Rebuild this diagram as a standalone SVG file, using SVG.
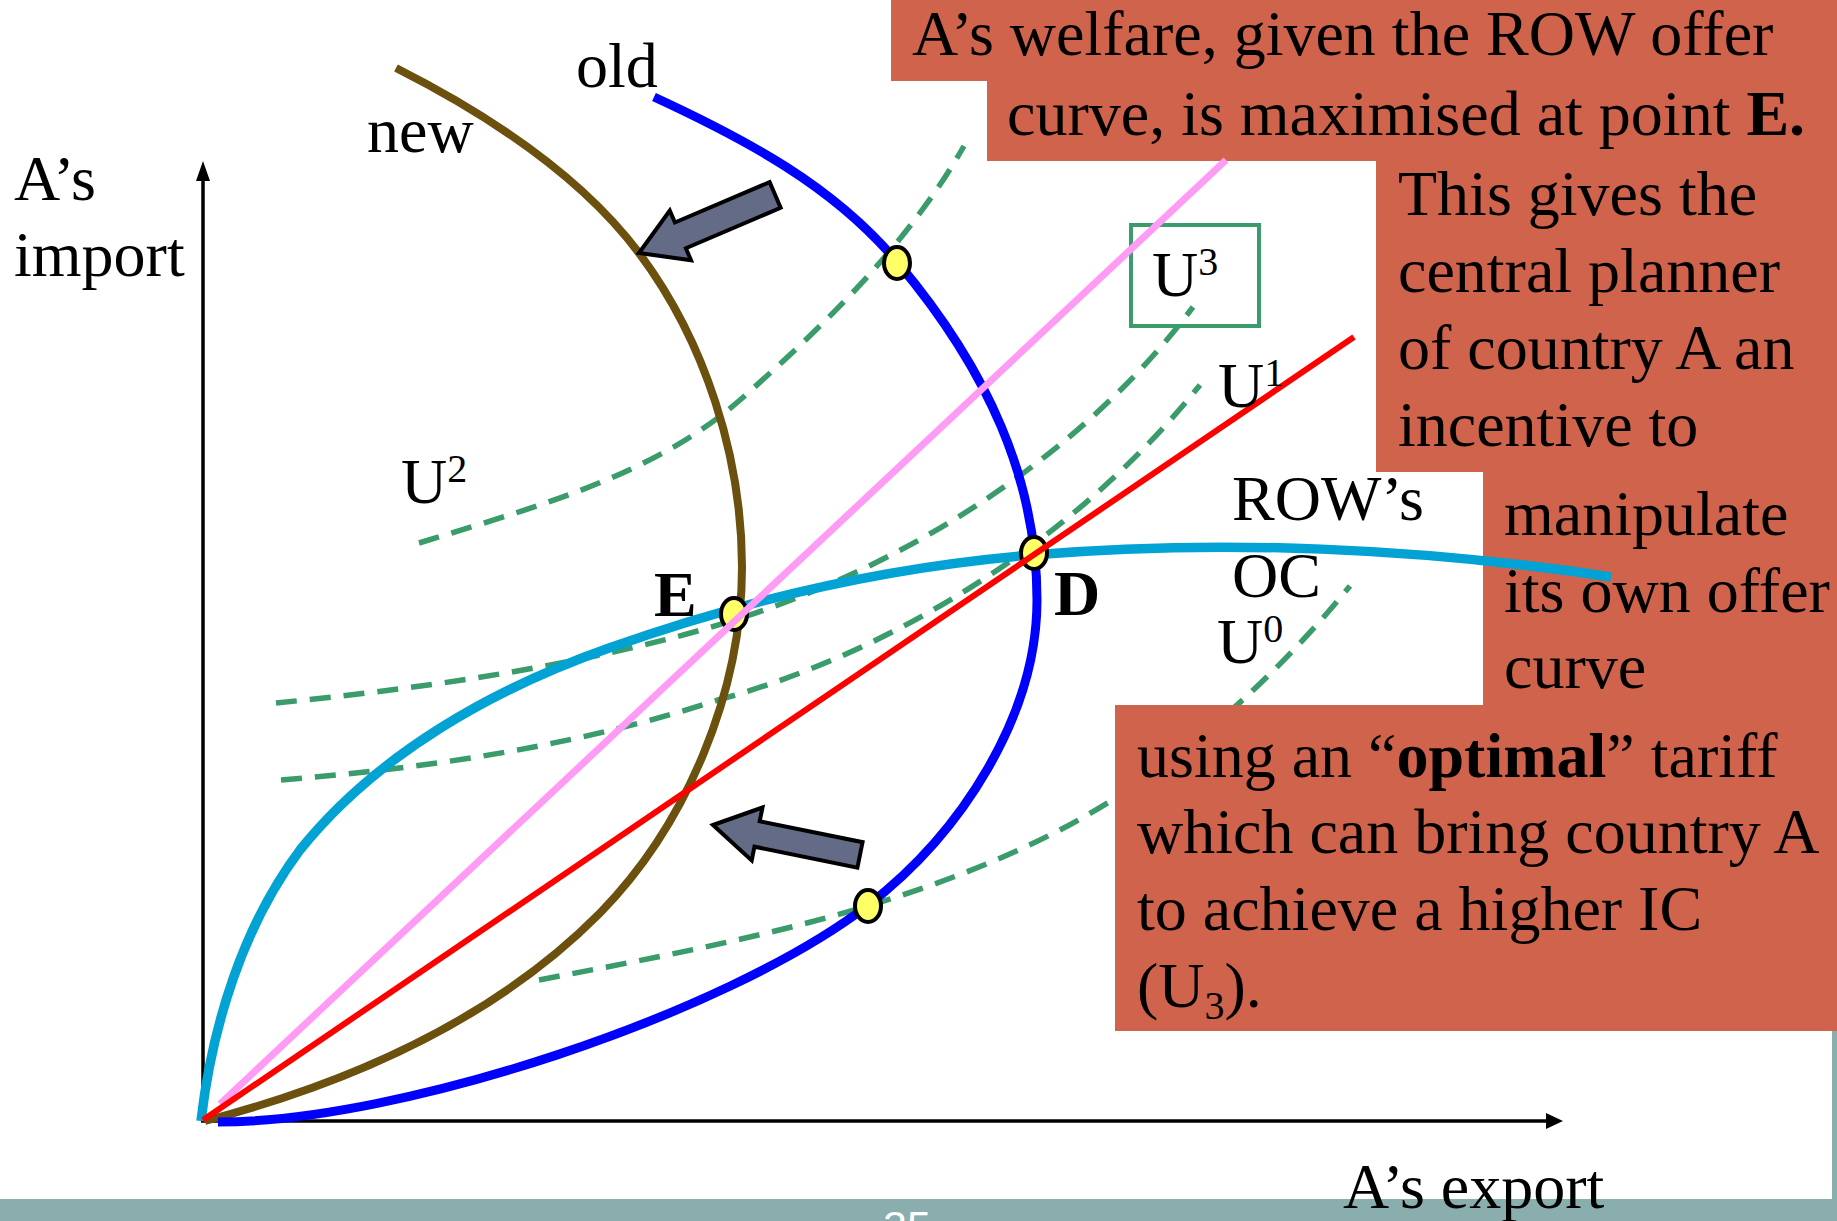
<svg xmlns="http://www.w3.org/2000/svg" width="1837" height="1221" viewBox="0 0 1837 1221">
<defs>
<style>
.t{font-family:"Liberation Serif","Times New Roman",serif;font-size:64px;fill:#000}
.b{font-weight:bold}
.sup{font-size:40px}
.ic{fill:none;stroke:#3A9B6B;stroke-width:5.5;stroke-dasharray:21 13}
.box{fill:#D0634B}
.pt{fill:#FFFF66;stroke:#000;stroke-width:4}
.arr{fill:#646B87;stroke:#000;stroke-width:4;stroke-linejoin:miter}
.ax{stroke:#000;stroke-width:3.5;fill:none}
</style>
</defs>
<rect x="0" y="0" width="1837" height="1221" fill="#fff"/>
<g id="frame">
<rect x="1832" y="0" width="5" height="1221" fill="#8AADAD"/>
<rect x="0" y="1199" width="1837" height="22" fill="#8AADAD"/>
</g>
<g id="connectors">
<path id="U0" class="ic" d="M539,980 C717,946 896,913 1054,833 C1168,775 1269,685 1350,586"/>
<path id="U1" class="ic" d="M281,780 C429,768 577,746 718,700 C900,650 1080,535 1200,385"/>
<path id="U2" class="ic" d="M419,543 C531,508 652,477 740,400 C825,325 908,244 964,146"/>
<path id="U3" class="ic" d="M276,703 C426,688 590,665 735,620 C911,563 1082,455 1193,307"/>
</g>
<g id="boxes">
<rect class="box" x="891" y="0" width="946" height="81"/>
<rect class="box" x="987" y="80" width="850" height="81"/>
<rect class="box" x="1376" y="160" width="461" height="312"/>
<rect class="box" x="1483" y="471" width="354" height="235"/>
<rect class="box" x="1115" y="705" width="722" height="326"/>
</g>
<g id="u3box">
<rect x="1131" y="225" width="128" height="101" fill="none" stroke="#3A9B6B" stroke-width="4"/>
</g>
<g id="axes">
<line class="ax" x1="203" y1="1121" x2="203" y2="176"/>
<polygon points="203,161 196,181 210,181" fill="#000"/>
<line class="ax" x1="201" y1="1121" x2="1548" y2="1121"/>
<polygon points="1563,1121 1546,1113 1546,1129" fill="#000"/>
</g>
<g id="curves">
<path id="new" d="M396,68 C485,113 579,173 639,253 C705,341 742,457 742,567 C742,692 687,824 600,913 C495,1019 350,1083 205,1121" fill="none" stroke="#6B500E" stroke-width="8"/>
<path id="old" d="M654,97 C745,139 834,186 898,263 C988,370 1037,480 1037,600 C1037,715 962,833 867,906 C724,1015 400,1122 218,1122" fill="none" stroke="#0000FF" stroke-width="9"/>
<path id="row" d="M201,1121 C212,1026 243,926 300,850 C377,754 493,689 609,648 C744,600 888,567 1031,555 C1220,539 1423,548 1611,577" fill="none" stroke="#02A3D4" stroke-width="9.5"/>
</g>
<g id="points">
<ellipse class="pt" cx="897" cy="263" rx="13" ry="16"/>
<ellipse class="pt" cx="734" cy="614" rx="13" ry="16"/>
<ellipse class="pt" cx="1034" cy="553" rx="13" ry="16"/>
<ellipse class="pt" cx="868" cy="906" rx="13" ry="16"/>
</g>
<g id="rays">
<line x1="220" y1="1104" x2="1226" y2="160" stroke="#FF9BF5" stroke-width="7"/>
<line x1="203" y1="1120" x2="1354" y2="337" stroke="#FF0000" stroke-width="6"/>
</g>
<g id="arrows">
<polygon class="arr" transform="translate(639,253) rotate(-23.1)" points="0,0 45,-27 45,-14 148,-14 148,14 45,14 45,27"/>
<polygon class="arr" transform="translate(713,825) rotate(11.5)" points="0,0 45,-27 45,-13 150,-13 150,13 45,13 45,27"/>
</g>
<g id="labels">
<text class="t" x="14" y="200">A’s</text>
<text class="t" x="14" y="276">import</text>
<text class="t" x="367" y="152">new</text>
<text class="t" x="576" y="87">old</text>
<text class="t" x="401" y="503">U<tspan class="sup" dy="-21">2</tspan></text>
<text class="t b" x="654" y="616">E</text>
<text class="t b" x="1054" y="615">D</text>
<text class="t" x="1152" y="296">U<tspan class="sup" dy="-21">3</tspan></text>
<text class="t" x="1218" y="407">U<tspan class="sup" dy="-21">1</tspan></text>
<text class="t" x="1232" y="520">ROW’s</text>
<text class="t" x="1232" y="597">OC</text>
<text class="t" x="1217" y="663">U<tspan class="sup" dy="-21">0</tspan></text>
<text class="t" x="1343" y="1208">A’s export</text>
</g>
<g id="notes">
<text class="t" x="912" y="55">A’s welfare, given the ROW offer</text>
<text class="t" x="1007" y="135">curve, is maximised at point <tspan class="b">E.</tspan></text>
<text class="t" x="1398" y="215">This gives the</text>
<text class="t" x="1398" y="292">central planner</text>
<text class="t" x="1398" y="369">of country A an</text>
<text class="t" x="1398" y="446">incentive to</text>
<text class="t" x="1504" y="535">manipulate</text>
<text class="t" x="1504" y="612">its own offer</text>
<text class="t" x="1504" y="688">curve</text>
<text class="t" x="1137" y="777">using an “<tspan class="b">optimal</tspan>” tariff</text>
<text class="t" x="1137" y="853">which can bring country A</text>
<text class="t" x="1137" y="930">to achieve a higher IC</text>
<text class="t" x="1137" y="1007">(U<tspan class="sup" dy="12">3</tspan><tspan dy="-12">).</tspan></text>
</g>
<text x="907" y="1241" text-anchor="middle" font-family="Liberation Sans, Arial, sans-serif" font-size="43" fill="#fff">35</text>
</svg>
